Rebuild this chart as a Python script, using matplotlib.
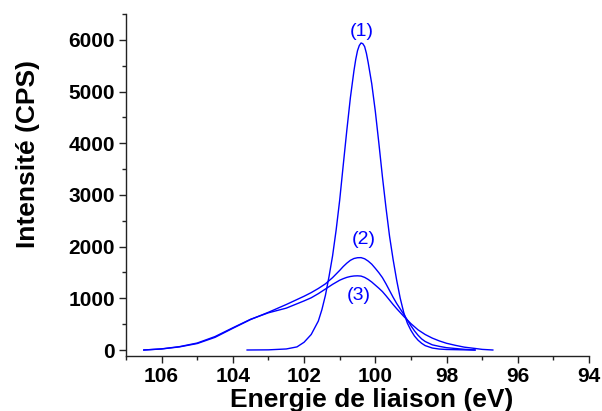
import matplotlib
matplotlib.use("Agg")
import matplotlib.pyplot as plt
from matplotlib.ticker import MultipleLocator

# ---- data ----
energy_1 = [103.6, 103.0, 102.5, 102.2, 102.0, 101.8, 101.6, 101.5, 101.4, 101.3, 101.2,
            101.1, 101.0, 100.9, 100.8, 100.7, 100.6, 100.55, 100.5, 100.45, 100.4,
            100.35, 100.3, 100.25, 100.2, 100.1, 100.0, 99.9, 99.8, 99.7, 99.6, 99.5,
            99.4, 99.3, 99.2, 99.1, 99.0, 98.9, 98.8, 98.7, 98.6, 98.4, 98.2, 98.0,
            97.5, 97.2]
counts_1 = [0, 3, 20, 60, 150, 300, 560, 780, 1060, 1420, 1820,
            2320, 2900, 3580, 4250, 4880, 5400, 5620, 5790, 5890, 5940,
            5925, 5870, 5740, 5560, 5150, 4620, 4000, 3350, 2750, 2200, 1750,
            1350, 1000, 720, 520, 380, 270, 190, 130, 85, 38, 18, 10,
            3, 0]

energy_2 = [106.5, 106.0, 105.5, 105.0, 104.5, 104.0, 103.5, 103.0, 102.5, 102.0, 101.8,
            101.6, 101.4, 101.2, 101.1, 101.0, 100.9, 100.8, 100.7, 100.6, 100.5, 100.4,
            100.3, 100.2, 100.1, 100.0, 99.9, 99.8, 99.7, 99.6, 99.5, 99.4, 99.3, 99.2,
            99.1, 99.0, 98.9, 98.8, 98.7, 98.6, 98.4, 98.2, 98.0, 97.5, 97.2]
counts_2 = [0, 20, 60, 125, 245, 420, 590, 730, 880, 1040, 1110,
            1190, 1280, 1400, 1470, 1540, 1615, 1680, 1735, 1770, 1785, 1787,
            1765, 1720, 1660, 1580, 1495, 1400, 1280, 1150, 1020, 900, 795, 690,
            580, 470, 370, 285, 215, 165, 100, 70, 45, 13, 0]

energy_3 = [106.5, 106.0, 105.5, 105.0, 104.5, 104.0, 103.5, 103.0, 102.5, 102.0, 101.8,
            101.6, 101.4, 101.2, 101.1, 101.0, 100.9, 100.8, 100.7, 100.6, 100.5, 100.4,
            100.3, 100.2, 100.1, 100.0, 99.9, 99.8, 99.7, 99.6, 99.5, 99.4, 99.3, 99.2,
            99.1, 99.0, 98.9, 98.8, 98.6, 98.4, 98.2, 98.0, 97.75, 97.5, 97.2, 97.0, 96.7]
counts_3 = [0, 22, 65, 135, 260, 430, 595, 720, 810, 950, 1010,
            1090, 1180, 1270, 1310, 1350, 1380, 1405, 1422, 1432, 1435, 1430,
            1405, 1365, 1315, 1255, 1195, 1130, 1050, 965, 880, 800, 725, 650,
            580, 510, 450, 390, 300, 230, 175, 130, 90, 55, 30, 12, 0]

curve_labels = ["(1)", "(2)", "(3)"]
label_pos_x = [100.38, 100.33, 100.47]
label_pos_y = [6160, 2130, 1060]

x_ticks = [106, 104, 102, 100, 98, 96, 94]
y_ticks = [0, 1000, 2000, 3000, 4000, 5000, 6000]

# ---- figure ----
plt.rcParams['font.family'] = ['Liberation Sans', 'DejaVu Sans']
fig = plt.figure(figsize=(6.02, 4.11), dpi=100)
ax = fig.add_axes([126/602, 1-356/411, (589-126)/602, (356-14)/411])

blue = "#0000ff"
for e, c in [(energy_1, counts_1), (energy_2, counts_2), (energy_3, counts_3)]:
    ax.plot(e, c, color=blue, lw=1.0, solid_joinstyle="round")

for t, x, y in zip(curve_labels, label_pos_x, label_pos_y):
    ax.text(x, y, t, color=blue, fontsize=14, ha="center", va="center")

ax.set_xlim(107, 94)
ax.set_ylim(-116, 6500)
ax.set_xticks(x_ticks)
ax.set_yticks(y_ticks)
ax.xaxis.set_minor_locator(MultipleLocator(1))
ax.yaxis.set_minor_locator(MultipleLocator(500))

for s in ["top", "right"]:
    ax.spines[s].set_visible(False)
for s in ["left", "bottom"]:
    ax.spines[s].set_color("#222222")
    ax.spines[s].set_linewidth(1.0)

ax.tick_params(axis="both", which="major", direction="out", length=5, width=1,
               labelsize=15, pad=3, color="#222222")
ax.tick_params(axis="both", which="minor", direction="out", length=3, width=1, color="#222222")
for lab in ax.get_xticklabels() + ax.get_yticklabels():
    lab.set_fontweight("bold")

ax.set_xlabel("Energie de liaison (eV)", fontsize=19, fontweight="bold")
ax.set_ylabel("Intensité (CPS)", fontsize=19, fontweight="bold")
ax.xaxis.set_label_coords(0.530, -0.095)
ax.yaxis.set_label_coords(-0.185, 0.59)

fig.savefig("out.png", dpi=100)
